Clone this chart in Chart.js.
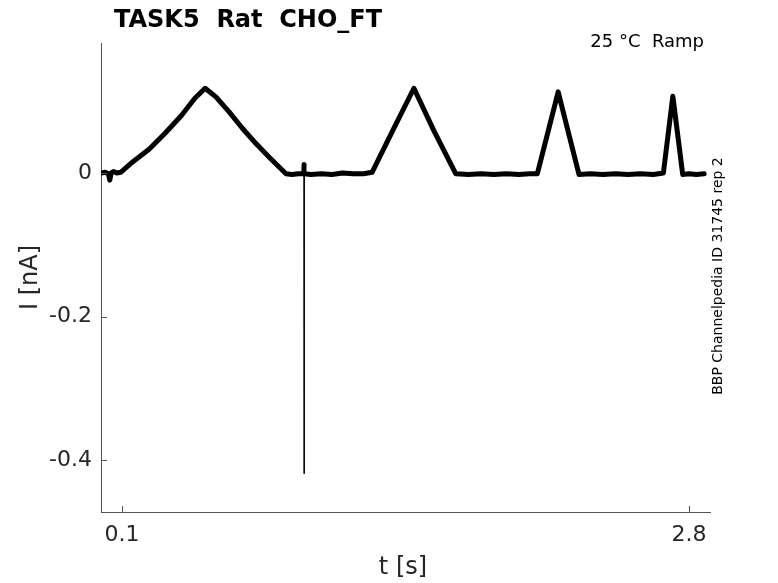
<!DOCTYPE html>
<html><head><meta charset="utf-8">
<script src="https://cdn.jsdelivr.net/npm/chart.js@4.4.1/dist/chart.umd.min.js"></script>
<style>html,body{margin:0;padding:0;background:#fff;}#wrap{width:778px;height:583px;}</style>
</head><body><div id="wrap"><canvas id="c" width="778" height="583"></canvas></div>
<script>
// ---- data ----
const timeS = [
  0.000, 0.020, 0.035, 0.042, 0.048, 0.060, 0.075, 0.094, 0.149, 0.229, 0.304, 0.383, 0.447, 0.496,
  0.547, 0.610, 0.674, 0.738, 0.801, 0.881, 0.910, 0.940, 0.966, 0.967, 0.967, 0.968,
  1.000, 1.050, 1.100, 1.150, 1.200, 1.250, 1.291, 1.389, 1.490, 1.585, 1.689,
  1.750, 1.810, 1.870, 1.930, 1.990, 2.040, 2.078, 2.177, 2.276,
  2.330, 2.390, 2.450, 2.510, 2.570, 2.630, 2.678, 2.723, 2.770, 2.800, 2.835, 2.872
];
const currentNA = [
  0.000, 0.001, -0.001, -0.010, 0.000, 0.002, 0.000, 0.001, 0.015, 0.033, 0.055, 0.080, 0.104, 0.118,
  0.106, 0.085, 0.062, 0.041, 0.022, -0.001, -0.002, -0.001, -0.001, 0.012, -0.418, -0.001,
  -0.002, -0.001, -0.002, 0.000, -0.001, -0.001, 0.001, 0.059, 0.118, 0.059, -0.001,
  -0.002, -0.001, -0.002, -0.001, -0.002, -0.001, -0.001, 0.113, -0.002,
  -0.001, -0.002, -0.001, -0.002, -0.001, -0.002, 0.000, 0.107, -0.002, -0.001, -0.002, -0.001
];
const xTicks = [0.1, 2.8];
const yTicks = [0, -0.2, -0.4];
const xRange = [0, 2.9];
const yRange = [-0.472, 0.181];
const titleText = 'TASK5  Rat  CHO_FT';
const conditionText = '25 °C  Ramp';
const sideText = 'BBP Channelpedia ID 31745 rep 2';
const xLabel = 't [s]';
const yLabel = 'I [nA]';

const points = timeS.map((t, i) => ({ x: t, y: currentNA[i] }));
const FONT = 'DejaVu Sans';
const AXIS = '#555555';
const TEXT = '#262626';

const decorations = {
  id: 'decorations',
  afterDraw(chart) {
    const ctx = chart.ctx;
    const xs = chart.scales.x, ys = chart.scales.y;
    const a = chart.chartArea;
    ctx.save();
    // inward tick marks
    ctx.strokeStyle = AXIS; ctx.lineWidth = 1;
    xTicks.forEach(v => {
      const px = Math.round(xs.getPixelForValue(v)) + 0.5;
      ctx.beginPath(); ctx.moveTo(px, a.bottom); ctx.lineTo(px, a.bottom - 6); ctx.stroke();
    });
    yTicks.forEach(v => {
      const py = Math.round(ys.getPixelForValue(v)) + 0.5;
      ctx.beginPath(); ctx.moveTo(a.left, py); ctx.lineTo(a.left + 6, py); ctx.stroke();
    });
    // title
    ctx.fillStyle = '#000';
    ctx.font = 'bold 24px "' + FONT + '"';
    ctx.textAlign = 'left'; ctx.textBaseline = 'alphabetic';
    ctx.fillText(titleText, 114, 27);
    // condition text
    ctx.fillStyle = '#000';
    ctx.font = '18px "' + FONT + '"';
    ctx.textAlign = 'right';
    ctx.fillText(conditionText, 704, 47);
    // side text (vertical)
    ctx.save();
    ctx.translate(722, 276);
    ctx.rotate(-Math.PI / 2);
    ctx.font = '14px "' + FONT + '"';
    ctx.textAlign = 'center'; ctx.textBaseline = 'alphabetic';
    ctx.fillText(sideText, 0, 0);
    ctx.restore();
    // axis titles
    ctx.fillStyle = TEXT;
    ctx.font = '24px "' + FONT + '"';
    ctx.save();
    ctx.translate(37, (a.top + a.bottom) / 2);
    ctx.rotate(-Math.PI / 2);
    ctx.textAlign = 'center'; ctx.textBaseline = 'alphabetic';
    ctx.fillText(yLabel, 0, 0);
    ctx.restore();
    ctx.textAlign = 'center'; ctx.textBaseline = 'alphabetic';
    ctx.fillText(xLabel, 403, 574);
    ctx.restore();
  }
};

new Chart(document.getElementById('c'), {
  type: 'line',
  data: {
    datasets: [{
      data: points,
      borderColor: '#000',
      borderWidth: 5,
      pointRadius: 0,
      tension: 0,
      borderJoinStyle: 'round',
      borderCapStyle: 'round',
      segment: {
        borderWidth: c => Math.abs(c.p1.parsed.y - c.p0.parsed.y) > 0.2 ? 1.6 : undefined
      }
    }]
  },
  options: {
    responsive: false,
    animation: false,
    devicePixelRatio: 1,
    layout: { padding: { top: 43, right: 68, bottom: 0, left: 0 } },
    plugins: { legend: { display: false }, tooltip: { enabled: false }, title: { display: false } },
    scales: {
      x: {
        type: 'linear', min: xRange[0], max: xRange[1],
        afterBuildTicks: s => { s.ticks = xTicks.map(v => ({ value: v })); },
        afterFit: s => { s.height = 71; },
        grid: { drawOnChartArea: false, drawTicks: false },
        border: { display: true, color: AXIS, width: 1 },
        ticks: { font: { family: FONT, size: 22 }, color: TEXT, padding: 10, maxRotation: 0, autoSkip: false,
                 callback: v => String(v) }
      },
      y: {
        type: 'linear', min: yRange[0], max: yRange[1],
        afterBuildTicks: s => { s.ticks = yTicks.map(v => ({ value: v })); },
        afterFit: s => { s.width = 101; },
        grid: { drawOnChartArea: false, drawTicks: false },
        border: { display: true, color: AXIS, width: 1 },
        ticks: { font: { family: FONT, size: 22 }, color: TEXT, padding: 9, autoSkip: false,
                 callback: v => String(v) }
      }
    }
  },
  plugins: [decorations]
});
</script></body></html>
